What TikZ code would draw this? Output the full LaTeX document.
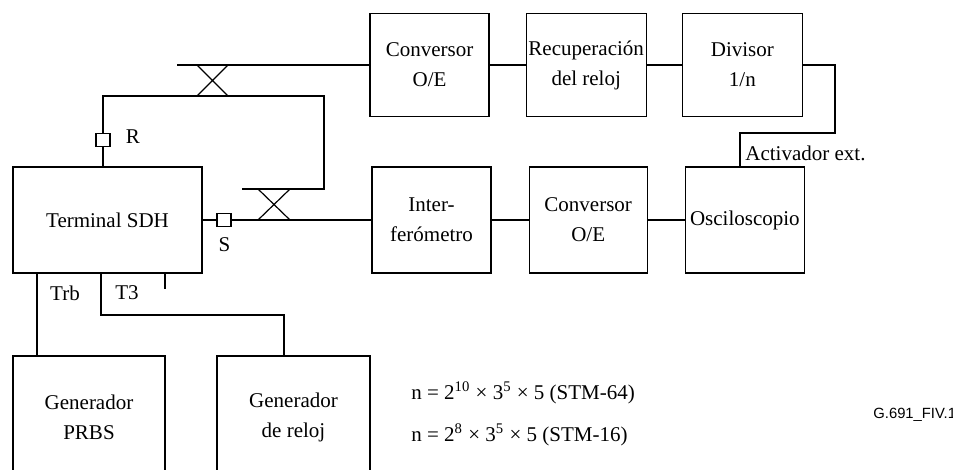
\documentclass[tikz,border=0pt]{standalone}
\usepackage{fontspec}
\setmainfont{Liberation Serif}
\newfontfamily\tagfont{Liberation Sans}
\usetikzlibrary{shapes,positioning,calc}

\begin{document}
\begin{tikzpicture}[
        x=0.5pt, y=-0.5pt,
        font=\fontsize{10.5}{15}\selectfont,
        node distance=18pt,
        block/.style={rectangle, draw, text centered, align=center, minimum width=60pt, minimum height=51.5pt, inner sep=0pt, line width=0.6pt},
        gen/.style={block, minimum width=76.5pt, minimum height=61pt},
        port/.style={rectangle, draw, fill=white, minimum width=7pt, minimum height=6.5pt, inner sep=0pt, line width=0.6pt},
        coupler/.style={cross out, draw, minimum width=15.5pt, minimum height=15.5pt, inner sep=0pt, outer sep=0pt, line width=0.6pt},
        line/.style={draw, line width=0.6pt},
        lbl/.style={inner sep=0pt}
    ]
    \useasboundingbox (0,0) rectangle (953,470);
    \clip (0,0) rectangle (953,470);

    % Top row: receive chain
    \node [block, minimum width=59.5pt] (conv1) at (429.5,65) {Conversor\\O/E};
    \node [block, right=18pt of conv1] (recup) {Recuperación\\del reloj};
    \node [block, right=17.5pt of recup] (divisor) {Divisor\\1/n};

    % Middle row: terminal and measurement chain
    \node [block, minimum width=94.5pt, minimum height=53pt] (term) at (107.5,220) {Terminal SDH};
    \node [block, minimum width=59.5pt, minimum height=53pt] (interf) at (431.5,220) {Inter-\\ferómetro};
    \node [block, minimum width=59pt, minimum height=53pt, right=18.5pt of interf] (conv2) {Conversor\\O/E};
    \node [block, minimum width=59.5pt, minimum height=53pt, right=18.5pt of conv2] (osc) {Osciloscopio};

    % Bottom row: generators (cut off by the lower edge)
    \node [gen, minimum width=76pt] (prbs) at (89,417) {Generador\\PRBS};
    \node [gen] (reloj) at (293.5,417) {Generador\\de reloj};

    % Ports and couplers
    \node [port] (conR) at (103,140) {};
    \node [port] (conS) at (224,220) {};
    \node [coupler] (cplT) at (212.5,80.5) {};
    \node [coupler, minimum width=16pt] (cplB) at (274,204.5) {};

    \coordinate (feed) at (177,65);
    \coordinate (loopL) at (103,96);
    \coordinate (loopR) at (324,96);
    \coordinate (loopB) at (242,189);
    \coordinate (trigbend) at (740,133);
    \coordinate (trbx) at (37,300);
    \coordinate (t3bend) at (101,315);
    \coordinate (clkx) at (284,315);
    \coordinate (stub) at (165,289);

    % Connections
    \path [line] (feed) -- (conv1.west);
    \path [line] (conv1) -- (recup);
    \path [line] (recup) -- (divisor);
    \path [line] (divisor.east) -- ++(32,0) |- (trigbend) -- (osc.north -| trigbend);

    \path [line] (term.north -| loopL) -- (conR) -- (loopL) -- (loopR) -- (loopR |- loopB) -- (loopB);
    \path [line] (term.east) -- (conS) -- (interf.west);
    \path [line] (interf) -- (conv2);
    \path [line] (conv2) -- (osc);

    \path [line] (term.south -| trbx) -- (prbs.north -| trbx);
    \path [line] (term.south -| t3bend) -- (t3bend) -- (clkx) -- (reloj.north -| clkx);
    \path [line] (term.south -| stub) -- (stub);

    % Labels
    \node [lbl] (lblR) at (133,137) {R};
    \node [lbl] (lblS) at (224.5,245) {S};
    \node [lbl] (lblTrb) at (65,293) {Trb};
    \node [lbl] (lblT3) at (127,293) {T3};
    \node [lbl, anchor=west] (trig) at (745,153) {Activador ext.};

    \node [lbl, anchor=west] (nstm64) at (411,393) {n = 2\textsuperscript{10} × 3\textsuperscript{5} × 5 (STM-64)};
    \node [lbl, anchor=west] (nstm16) at (411,435) {n = 2\textsuperscript{8} × 3\textsuperscript{5} × 5 (STM-16)};
    \node [lbl, anchor=west, font=\tagfont\fontsize{7.4}{9}\selectfont] (figtag) at (873,415) {G.691\_FIV.1};

\end{tikzpicture}
\end{document}
